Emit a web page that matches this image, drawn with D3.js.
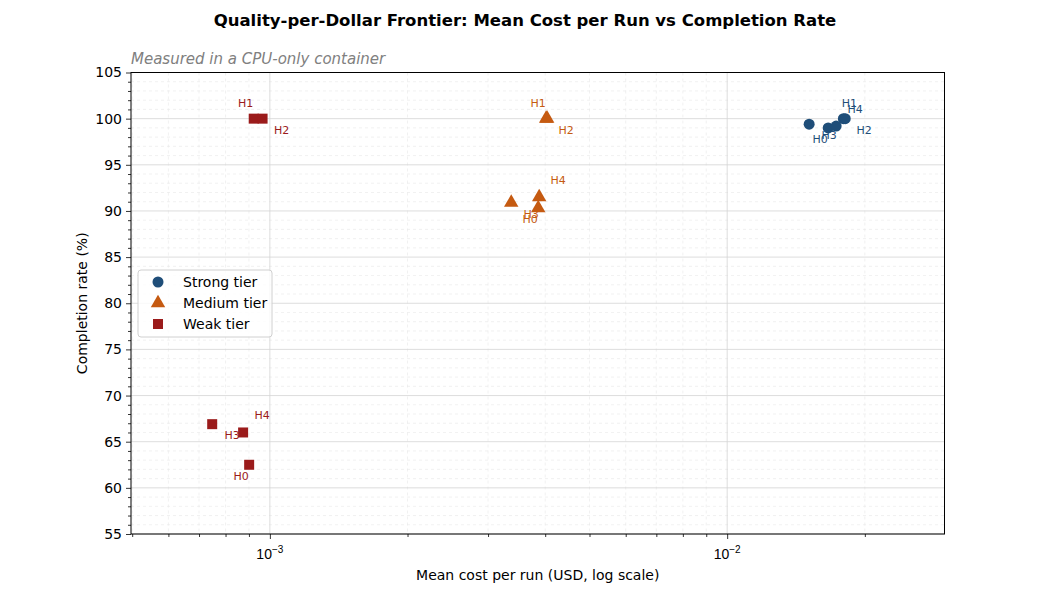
<!DOCTYPE html>
<html>
<head>
<meta charset="utf-8">
<script src="https://cdn.jsdelivr.net/npm/d3@7"></script>
<style>
  body { margin: 0; background: #fff; }
  svg { font-family: "DejaVu Sans", sans-serif; }
</style>
</head>
<body>
<script>
// data
var configLabels = ["H0", "H1", "H2", "H3", "H4"];
var strongCost = [0.01663, 0.01795, 0.01812, 0.01511, 0.01731];
var strongRate = [99.0, 100.0, 100.0, 99.4, 99.2];
var mediumCost = [0.003862, 0.004019, 0.00404, 0.003371, 0.003881];
var mediumRate = [90.3, 100.0, 100.0, 90.9, 91.5];
var weakCost = [0.000901, 0.000922, 0.000964, 0.000748, 0.000874];
var weakRate = [62.5, 100.0, 100.0, 66.9, 66.0];
var tierNames = ["Strong tier", "Medium tier", "Weak tier"];
var yTicks = [55, 60, 65, 70, 75, 80, 85, 90, 95, 100, 105];

// layout
var W = 1050, H = 600;
var plot = {left: 131, right: 944.5, top: 72.5, bottom: 534};
var colors = ["#1f4e79", "#c55a11", "#9b1b1b"];
var shapes = [d3.symbolCircle, d3.symbolTriangle, d3.symbolSquare];
var symSize = [95, 90, 100];
// label offsets (px) relative to the marker
var labelOffset = {H0: [-8, 11], H1: [-8, -16], H2: [19, 11], H3: [20, 11], H4: [19, -17]};
var offsetOverride = {"0-H1": [6, -16]};

var tiers = [
  {name: tierNames[0], cost: strongCost, rate: strongRate},
  {name: tierNames[1], cost: mediumCost, rate: mediumRate},
  {name: tierNames[2], cost: weakCost, rate: weakRate}
];

var svg = d3.select("body").append("svg")
    .attr("width", W)
    .attr("height", H);

var x = d3.scaleLog()
    .domain([4.97e-4, 0.02987])
    .range([plot.left, plot.right]);

var y = d3.scaleLinear()
    .domain([55, 105])
    .range([plot.bottom, plot.top]);

// log ticks: powers of ten are major, the rest minor
var allX = x.ticks();
var majorX = allX.filter(function(d) { return Math.abs(Math.log10(d) - Math.round(Math.log10(d))) < 1e-9; });
var minorX = allX.filter(function(d) { return majorX.indexOf(d) < 0; });
var minorY = y.ticks(50).filter(function(d) { return yTicks.indexOf(d) < 0; });

var grid = svg.append("g");
// minor grid
grid.selectAll(".mgx").data(minorX).enter().append("line")
    .attr("x1", function(d) { return x(d); }).attr("x2", function(d) { return x(d); })
    .attr("y1", plot.top).attr("y2", plot.bottom)
    .attr("stroke", "#e8e8e8").attr("stroke-width", 0.6).attr("stroke-dasharray", "3,3");
grid.selectAll(".mgy").data(minorY).enter().append("line")
    .attr("x1", plot.left).attr("x2", plot.right)
    .attr("y1", function(d) { return y(d); }).attr("y2", function(d) { return y(d); })
    .attr("stroke", "#e8e8e8").attr("stroke-width", 0.6).attr("stroke-dasharray", "3,3");
// major grid
grid.selectAll(".gx").data(majorX).enter().append("line")
    .attr("x1", function(d) { return x(d); }).attr("x2", function(d) { return x(d); })
    .attr("y1", plot.top).attr("y2", plot.bottom)
    .attr("stroke", "#d4d4d4").attr("stroke-width", 0.8);
grid.selectAll(".gy").data(yTicks).enter().append("line")
    .attr("x1", plot.left).attr("x2", plot.right)
    .attr("y1", function(d) { return y(d); }).attr("y2", function(d) { return y(d); })
    .attr("stroke", "#d4d4d4").attr("stroke-width", 0.8);

// axes
var xAxis = svg.append("g")
    .attr("transform", "translate(0," + plot.bottom + ")")
    .call(d3.axisBottom(x).tickValues(majorX).tickSize(5).tickSizeOuter(0).tickFormat(""));
xAxis.append("g")
    .call(d3.axisBottom(x).tickValues(minorX).tickSize(3).tickSizeOuter(0).tickFormat(""));
xAxis.selectAll("path").remove();
xAxis.selectAll("line").attr("stroke", "#000").attr("stroke-width", 0.8);

// 10^k labels
majorX.forEach(function(d) {
  var t = xAxis.append("text")
      .attr("x", x(d)).attr("y", 25)
      .attr("text-anchor", "middle")
      .attr("font-size", 14).attr("fill", "#000");
  t.append("tspan").text("10");
  t.append("tspan").attr("dy", -6).attr("font-size", 10).text("\u2212" + Math.abs(Math.round(Math.log10(d))));
});

var yAxis = svg.append("g")
    .attr("transform", "translate(" + plot.left + ",0)")
    .call(d3.axisLeft(y).tickValues(yTicks).tickSize(5).tickSizeOuter(0).tickPadding(4));
yAxis.append("g")
    .call(d3.axisLeft(y).tickValues(minorY).tickSize(3).tickSizeOuter(0).tickFormat(""));
yAxis.selectAll("path").remove();
yAxis.selectAll("line").attr("stroke", "#000").attr("stroke-width", 0.8);
yAxis.selectAll("text").attr("font-size", 14).attr("font-family", "DejaVu Sans").attr("fill", "#000");

// frame
svg.append("rect")
    .attr("x", plot.left).attr("y", plot.top)
    .attr("width", plot.right - plot.left).attr("height", plot.bottom - plot.top)
    .attr("fill", "none").attr("stroke", "#000").attr("stroke-width", 1);

// points + labels
tiers.forEach(function(t, ti) {
  var g = svg.append("g");
  var pts = t.cost.map(function(c, i) { return {c: c, r: t.rate[i], lab: configLabels[i]}; });
  g.selectAll("path").data(pts).enter().append("path")
      .attr("d", d3.symbol().type(shapes[ti]).size(symSize[ti]))
      .attr("transform", function(d) { return "translate(" + x(d.c) + "," + y(d.r) + ")"; })
      .attr("fill", colors[ti]);
  g.selectAll("text").data(pts).enter().append("text")
      .attr("x", function(d) {
        var o = offsetOverride[ti + "-" + d.lab] || labelOffset[d.lab];
        return x(d.c) + o[0];
      })
      .attr("y", function(d) {
        var o = offsetOverride[ti + "-" + d.lab] || labelOffset[d.lab];
        return y(d.r) + o[1] + 4;
      })
      .attr("text-anchor", "middle")
      .attr("font-size", 11)
      .attr("fill", colors[ti])
      .text(function(d) { return d.lab; });
});

// legend
var leg = svg.append("g").attr("transform", "translate(138,270)");
leg.append("rect")
    .attr("width", 134).attr("height", 67).attr("rx", 3)
    .attr("fill", "#fff").attr("fill-opacity", 0.8)
    .attr("stroke", "#d0d0d0").attr("stroke-width", 1);
tierNames.forEach(function(n, i) {
  leg.append("path")
      .attr("d", d3.symbol().type(shapes[i]).size(symSize[i]))
      .attr("transform", "translate(20," + (12 + i * 21) + ")")
      .attr("fill", colors[i]);
  leg.append("text")
      .attr("x", 45).attr("y", 17 + i * 21)
      .attr("font-size", 14).attr("fill", "#000")
      .text(n);
});

// titles
svg.append("text")
    .attr("x", 525).attr("y", 26)
    .attr("text-anchor", "middle")
    .attr("font-size", 16.5).attr("font-weight", "bold")
    .text("Quality-per-Dollar Frontier: Mean Cost per Run vs Completion Rate");

svg.append("text")
    .attr("x", plot.left).attr("y", 64)
    .attr("font-size", 15).attr("font-style", "italic").attr("fill", "#808080")
    .text("Measured in a CPU-only container");

svg.append("text")
    .attr("x", (plot.left + plot.right) / 2).attr("y", 580)
    .attr("text-anchor", "middle").attr("font-size", 14)
    .text("Mean cost per run (USD, log scale)");

svg.append("text")
    .attr("transform", "translate(87," + ((plot.top + plot.bottom) / 2) + ") rotate(-90)")
    .attr("text-anchor", "middle").attr("font-size", 14)
    .text("Completion rate (%)");
</script>
</body>
</html>
